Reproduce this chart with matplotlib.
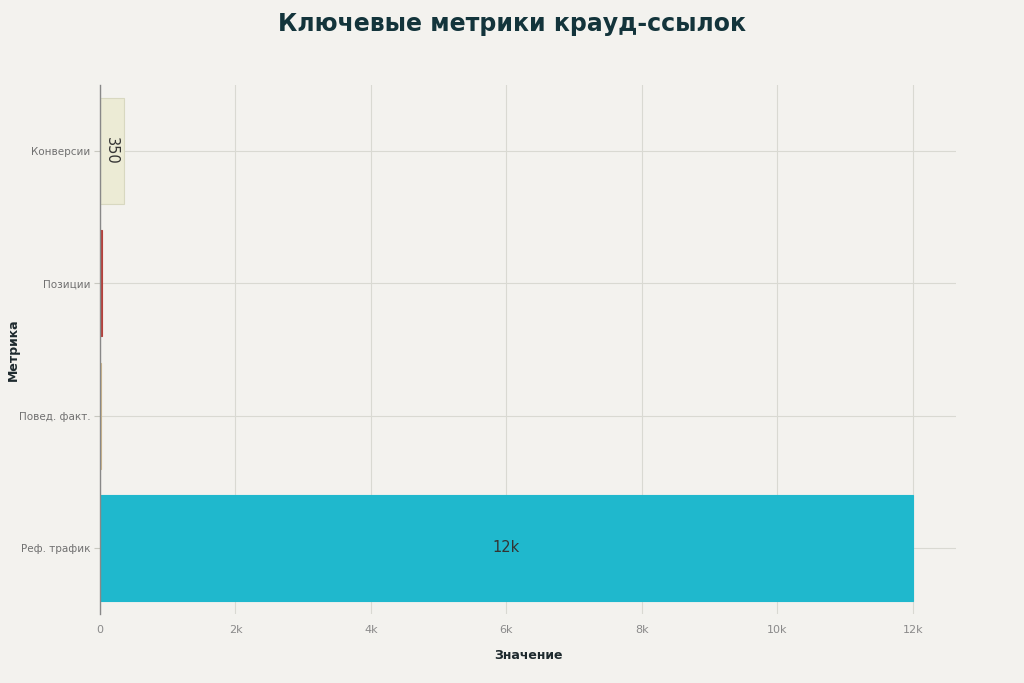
import matplotlib
matplotlib.use('Agg')
import matplotlib.pyplot as plt
from matplotlib.ticker import FuncFormatter

# data
metrics = ['Реф. трафик', 'Повед. факт.', 'Позиции', 'Конверсии']
values = [12000, 10, 25, 350]
labels = ['12k', '', '', '350']
colors = ['#1FB8CD', '#D2BA8C', '#B4413C', '#ECEBD5']
edges = ['#1FB8CD', '#D2BA8C', '#B4413C', '#D8D8C0']

bg = '#F3F2EE'
plt.rcParams['font.family'] = ['DejaVu Sans']

fig = plt.figure(figsize=(10.24, 6.83), dpi=100, facecolor=bg)
ax = fig.add_axes([100/1024, 1-614/683, 856/1024, 529/683])
ax.set_facecolor(bg)

ypos = list(range(len(metrics)))
ax.barh(ypos, values, height=0.8, color=colors, edgecolor=edges, linewidth=0.8, zorder=3)

# value labels
ax.text(values[0]/2, ypos[0], labels[0], ha='center', va='center', fontsize=10.5, color='#333333', zorder=4)
ax.text(values[3]/2, ypos[3], labels[3], ha='center', va='center', fontsize=10.5, color='#333333', rotation=270, zorder=4)

ax.set_xlim(0, 12640)
ax.set_ylim(-0.5, 3.5)
ax.set_xticks([0, 2000, 4000, 6000, 8000, 10000, 12000])
ax.xaxis.set_major_formatter(FuncFormatter(lambda v, p: '0' if v == 0 else '%dk' % (v/1000)))
ax.set_yticks(ypos)
ax.set_yticklabels(metrics)
ax.tick_params(axis='y', colors='#C8C8C0', labelcolor='#707070', labelsize=7.5, length=4, pad=3)
ax.tick_params(axis='x', colors='#C8C8C0', labelcolor='#8A8A8A', labelsize=8, length=0, pad=8)

ax.grid(True, color='#D9D9D2', linewidth=0.8, zorder=0)
for s in ['top', 'right', 'bottom']:
    ax.spines[s].set_visible(False)
ax.spines['left'].set_color('#888888')
ax.spines['left'].set_linewidth(1)
ax.spines['left'].set_zorder(5)

ax.set_xlabel('Значение', fontsize=9, fontweight='bold', color='#1E2A2E', labelpad=10)
ax.set_ylabel('Метрика', fontsize=9, fontweight='bold', color='#1E2A2E')
ax.yaxis.set_label_coords(-0.094, 0.5)

fig.text(0.5, 1-24/683, 'Ключевые метрики крауд-ссылок', ha='center', va='center',
         fontsize=17, fontweight='heavy', color='#13343B')

plt.savefig('out.png', dpi=100, facecolor=bg)
